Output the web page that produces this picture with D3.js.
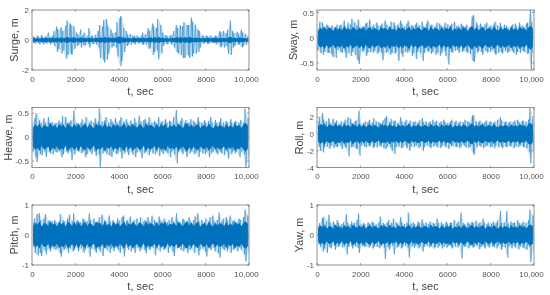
<!DOCTYPE html>
<html><head><meta charset="utf-8">
<script src="https://cdn.jsdelivr.net/npm/d3@7"></script>
<style>html,body{margin:0;padding:0;background:#fff}svg{display:block}text{font-family:"Liberation Sans",Arial,sans-serif}</style>
</head><body><div id="c"></div>
<script>
const xTicks=[0,2000,4000,6000,8000,10000];
const timeShift=[12,-28,31,-9,22,-33,5,27,-18,36,-24,9,-38,17,-6,29,-14,34,-31,3,24,-21,14];
const surgeHi=[.25,.2,.3,.2,.35,.2,.25,.5,.2,.3,.6,.9,.7,.85,.6,.95,1.3,1.1,1,.9,.5,.35,.7,.3,.5,.25,.8,.3,.25,.35,.6,1,.9,1.35,1.4,.9,.7,.45,.5,1.2,1.5,1.6,.8,.6,.35,.4,.25,.3,.3,.2,.3,.5,.35,.8,.6,1.1,.9,.8,1.4,1,.5,.3,.3,.25,.35,.6,1,.8,1,.9,1.2,1,1,1.5,1.2,1,.7,.6,.3,.25,.3,.25,.3,.2,.3,.25,.6,.5,.6,.45,.7,1.3,.6,.45,.55,.4,.7,.5,.4,.25];
const surgeLo=[-.2,-.25,-.2,-.3,-.2,-.3,-.25,-.2,-.3,-.2,-.4,-.8,-.6,-.9,-.7,-1.25,-1,-.9,-1,-.6,-.4,-.3,-.5,-.3,-.4,-.25,-.5,-.25,-.25,-.3,-.5,-1.2,-1.3,-1.5,-1.3,-.9,-.5,-.4,-.5,-1.1,-1.75,-1.4,-.8,-.4,-.3,-.3,-.2,-.3,-.25,-.2,-.3,-.3,-.3,-.6,-.5,-1,-.8,-.7,-1.3,-.9,-.4,-.25,-.3,-.2,-.3,-.5,-.8,-.9,-1,-1.2,-1.2,-1,-1.2,-1.1,-.9,-.9,-.8,-.5,-.25,-.2,-.25,-.25,-.2,-.2,-.3,-.2,-.5,-.4,-.5,-.4,-.9,-1,-.5,-.4,-.3,-.3,-.5,-.4,-.3,-.25];
const swayHi=[.18,.32,.3,.22,.26,.24,.2,.25,.2,.26,.24,.26,.34,.22,.3,.26,.38,.3,.24,.36,.2,.22,.28,.3,.36,.22,.26,.3,.24,.24,.28,.34,.26,.22,.32,.3,.24,.26,.34,.28,.22,.28,.34,.24,.24,.26,.3,.24,.32,.22,.28,.34,.24,.26,.22,.3,.28,.24,.22,.3,.26,.24,.28,.32,.22,.24,.28,.24,.22,.26,.2,.42,.45,.3,.24,.28,.22,.26,.3,.22,.24,.26,.32,.24,.3,.22,.26,.24,.2,.24,.26,.28,.22,.3,.24,.22,.28,.3,.55,.3];
const swayLo=[-.25,-.3,-.34,-.28,-.3,-.3,-.32,-.38,-.4,-.24,-.28,-.3,-.28,-.4,-.3,-.36,-.28,-.34,-.44,-.52,-.28,-.26,-.36,-.3,-.28,-.3,-.26,-.32,-.28,-.3,-.45,-.3,-.28,-.34,-.3,-.32,-.28,-.46,-.3,-.38,-.28,-.3,-.26,-.36,-.3,-.42,-.28,-.3,-.46,-.3,-.26,-.28,-.32,-.28,-.34,-.3,-.36,-.3,-.26,-.36,-.53,-.28,-.3,-.26,-.24,-.3,-.28,-.26,-.28,-.3,-.32,-.46,-.48,-.3,-.26,-.28,-.34,-.26,-.3,-.28,-.24,-.3,-.34,-.3,-.28,-.32,-.26,-.3,-.28,-.26,-.3,-.34,-.28,-.3,-.26,-.28,-.32,-.3,-.66,-.3];
const heaveHi=[.3,.4,.5,.35,.3,.4,.3,.42,.3,.32,.28,.3,.35,.3,.45,.42,.3,.32,.35,.56,.3,.28,.3,.38,.3,.42,.3,.35,.3,.4,.32,.6,.32,.35,.42,.3,.38,.32,.4,.3,.35,.42,.32,.38,.3,.35,.28,.4,.3,.45,.32,.35,.38,.3,.42,.3,.34,.3,.42,.3,.34,.38,.3,.35,.32,.42,.57,.3,.34,.4,.3,.36,.3,.38,.34,.3,.42,.32,.3,.36,.3,.34,.42,.3,.36,.3,.32,.4,.3,.34,.3,.38,.3,.32,.34,.3,.36,.3,.6,.4];
const heaveLo=[-.3,-.42,-.52,-.35,-.38,-.3,-.42,-.3,-.34,-.36,-.3,-.32,-.3,-.42,-.36,-.3,-.34,-.3,-.48,-.36,-.28,-.3,-.34,-.3,-.42,-.36,-.3,-.36,-.3,-.4,-.36,-.63,-.34,-.3,-.36,-.38,-.42,-.3,-.36,-.34,-.3,-.45,-.34,-.3,-.38,-.3,-.36,-.42,-.32,-.3,-.44,-.34,-.3,-.38,-.3,-.34,-.36,-.3,-.4,-.3,-.36,-.3,-.34,-.42,-.3,-.36,-.55,-.32,-.3,-.36,-.3,-.42,-.34,-.3,-.36,-.32,-.42,-.3,-.34,-.36,-.3,-.42,-.34,-.3,-.32,-.36,-.3,-.34,-.38,-.3,-.45,-.36,-.3,-.34,-.3,-.42,-.3,-.36,-.63,-.45];
const rollHi=[1.5,2,2.5,1.7,1.5,1.9,1.3,1.8,1.4,1.6,1.2,1.5,1.4,1.7,2,1.8,1.3,1.5,1.6,2.8,1.2,1.3,1.5,1.4,1.7,1.3,1.9,1.5,1.4,1.3,1.6,1.9,2.1,1.4,1.8,1.5,1.6,1.3,2,1.5,1.4,1.7,1.3,1.6,1.4,1.5,1.3,1.6,1.9,1.4,1.5,1.3,1.5,1.7,1.4,1.6,1.3,1.5,1.7,1.4,1.3,1.5,1.7,1.4,1.6,1.3,1.5,1.4,1.7,1.5,1.4,2.1,2.3,1.5,1.4,1.6,1.3,1.4,1.6,1.4,1.5,1.3,1.5,1.7,2,1.6,1.4,1.5,1.3,1.5,1.4,1.6,1.7,1.4,1.5,1.6,1.4,1.7,3.1,1.8];
const rollLo=[-1.5,-2,-2.2,-1.6,-1.5,-1.8,-1.4,-1.7,-1.5,-1.6,-1.4,-1.8,-1.5,-1.7,-2.7,-1.6,-1.5,-1.7,-1.8,-2.6,-1.4,-1.5,-1.6,-1.5,-1.4,-1.7,-1.5,-1.6,-1.4,-1.5,-1.7,-1.8,-1.5,-1.6,-2,-2.4,-1.6,-1.5,-1.7,-1.6,-1.4,-1.7,-2,-1.5,-1.6,-1.4,-1.7,-1.5,-2,-1.6,-1.4,-1.5,-1.7,-1.5,-1.4,-1.6,-1.7,-1.5,-1.4,-1.6,-1.8,-1.5,-1.4,-1.6,-1.5,-1.7,-1.5,-1.4,-1.6,-1.7,-1.5,-2.2,-2.5,-1.6,-1.4,-1.5,-1.7,-1.5,-1.4,-1.6,-1.5,-1.7,-1.4,-1.6,-1.5,-1.7,-1.5,-1.6,-1.4,-1.5,-1.7,-1.5,-1.6,-1.4,-1.5,-1.6,-1.7,-2.2,-3.5,-1.9];
const pitchHi=[.4,.55,.7,.72,.5,.55,.7,.45,.5,.45,.5,.42,.45,.7,.5,.45,.55,.68,.45,.72,.45,.5,.42,.55,.5,.45,.72,.5,.55,.42,.45,.6,.68,.5,.45,.65,.45,.5,.42,.55,.48,.6,.65,.45,.5,.62,.42,.5,.55,.42,.6,.45,.5,.6,.45,.65,.5,.42,.62,.5,.45,.55,.42,.5,.6,.45,.72,.48,.42,.55,.5,.45,.6,.45,.5,.62,.72,.45,.5,.42,.55,.45,.6,.65,.45,.5,.75,.45,.55,.6,.48,.65,.45,.5,.42,.55,.5,.6,.85,.65];
const pitchLo=[-.4,-.6,-.68,-.6,-.7,-.5,-.65,-.45,-.55,-.45,-.5,-.45,-.6,-.72,-.5,-.45,-.6,-.45,-.55,-.5,-.42,-.55,-.45,-.6,-.5,-.42,-.72,-.45,-.5,-.6,-.45,-.55,-.7,-.42,-.5,-.6,-.45,-.55,-.42,-.5,-.6,-.45,-.72,-.42,-.5,-.55,-.45,-.6,-.42,-.55,-.45,-.5,-.62,-.45,-.5,-.42,-.68,-.45,-.55,-.42,-.5,-.45,-.6,-.42,-.55,-.7,-.45,-.42,-.5,-.55,-.45,-.6,-.5,-.45,-.6,-.42,-.68,-.5,-.45,-.55,-.72,-.45,-.5,-.42,-.55,-.6,-.75,-.45,-.5,-.55,-.45,-.6,-.5,-.45,-.55,-.42,-.5,-.65,-.88,-.55];
const yawHi=[.3,.4,.55,.6,.45,.68,.4,.45,.35,.5,.4,.35,.42,.7,.4,.35,.45,.4,.5,.72,.35,.4,.35,.42,.38,.45,.4,.35,.42,.62,.4,.36,.42,.5,.4,.55,.42,.38,.6,.42,.36,.4,.75,.38,.42,.36,.45,.4,.52,.38,.42,.36,.45,.4,.38,.55,.4,.42,.36,.45,.38,.42,.4,.5,.38,.45,.75,.4,.36,.42,.38,.45,.4,.48,.38,.42,.55,.4,.36,.42,.38,.45,.4,.48,.8,.4,.42,.8,.38,.45,.4,.42,.5,.4,.38,.45,.4,.5,.85,.65];
const yawLo=[-.3,-.4,-.55,-.45,-.6,-.4,-.45,-.35,-.5,-.4,-.36,-.42,-.38,-.65,-.4,-.36,-.45,-.38,-.42,-.6,-.36,-.4,-.38,-.42,-.36,-.45,-.38,-.4,-.45,-.36,-.42,-.8,-.4,-.5,-.36,-.65,-.42,-.38,-.45,-.4,-.36,-.42,-.75,-.38,-.42,-.36,-.45,-.38,-.55,-.4,-.36,-.42,-.38,-.45,-.4,-.42,-.36,-.45,-.38,-.42,-.36,-.4,-.45,-.38,-.42,-.36,-.78,-.4,-.38,-.45,-.36,-.42,-.4,-.36,-.48,-.4,-.38,-.45,-.36,-.42,-.38,-.4,-.45,-.36,-.5,-.4,-.42,-.75,-.38,-.45,-.36,-.42,-.48,-.38,-.4,-.45,-.5,-.4,-.9,-.55];
const surgeCore=[.16,.1,.14,.09,.15,.11,.17,.1,.13,.16,.1,.18,.12,.2,.1,.16,.22,.11,.15,.2,.1,.14,.18,.11,.15,.1,.17,.12,.1,.15,.11,.19,.13,.22,.14,.18,.11,.16,.13,.2,.25,.15,.18,.11,.15,.1,.13,.16,.1,.14,.11,.16,.1,.15,.19,.12,.2,.13,.22,.11,.16,.1,.14,.09,.15,.11,.2,.13,.21,.12,.2,.14,.22,.16,.12,.19,.11,.15,.1,.14,.11,.16,.09,.13,.16,.1,.17,.12,.15,.1,.18,.22,.12,.16,.1,.18,.13,.15,.1,.13];
const swayCore=[.14,.2,.17,.22,.15,.21,.18,.14,.22,.16,.2,.15,.23,.17,.2,.14,.22,.18,.15,.21,.16,.23,.14,.19,.22,.15,.2,.17,.14,.22,.18,.2,.15,.23,.16,.19,.14,.22,.17,.21,.15,.18,.23,.14,.2,.16,.22,.17,.15,.21,.19,.14,.23,.16,.2,.18,.14,.22,.15,.2,.17,.23,.14,.19,.16,.21,.15,.22,.18,.14,.2,.24,.16,.21,.15,.19,.22,.14,.18,.2,.15,.23,.17,.14,.21,.16,.2,.18,.14,.22,.16,.19,.15,.23,.17,.2,.14,.21,.24,.18];
const heaveCore=[.2,.27,.22,.29,.18,.26,.24,.2,.3,.22,.26,.19,.28,.23,.27,.18,.3,.24,.2,.28,.21,.29,.19,.25,.28,.2,.27,.23,.18,.29,.24,.26,.2,.3,.21,.25,.19,.28,.22,.27,.2,.24,.3,.19,.26,.21,.28,.23,.2,.27,.25,.18,.3,.22,.26,.24,.19,.28,.2,.27,.23,.29,.18,.25,.22,.27,.2,.28,.24,.19,.26,.3,.21,.27,.2,.25,.28,.19,.24,.26,.2,.29,.22,.18,.27,.21,.26,.24,.19,.28,.21,.25,.2,.29,.23,.26,.19,.27,.3,.24];
const rollCore=[.9,1.2,1,1.3,.8,1.1,1.05,.85,1.25,.95,1.1,.8,1.2,.95,1.1,.8,1.25,1,.85,1.2,.85,1.15,.8,1.05,1.15,.85,1.1,.95,.75,1.2,1,1.1,.85,1.25,.9,1.05,.8,1.15,.9,1.1,.85,1,1.2,.8,1.05,.9,1.15,.95,.85,1.1,1,.8,1.2,.9,1.05,1,.8,1.15,.85,1.1,.95,1.2,.75,1.05,.9,1.1,.85,1.15,1,.8,1.1,1.3,.9,1.1,.85,1.05,1.15,.8,1,1.05,.85,1.2,.9,.8,1.1,.9,1.05,1,.8,1.15,.9,1.05,.85,1.2,.95,1.05,.8,1.2,1.3,1];
const pitchCore=[.3,.42,.34,.46,.28,.4,.38,.3,.46,.34,.4,.28,.44,.36,.42,.28,.46,.38,.3,.44,.32,.45,.29,.38,.44,.3,.42,.36,.28,.45,.38,.4,.3,.46,.32,.39,.28,.44,.34,.42,.3,.37,.46,.28,.4,.33,.44,.36,.3,.42,.38,.28,.46,.34,.4,.37,.29,.44,.3,.42,.36,.45,.28,.38,.34,.42,.3,.44,.37,.29,.4,.46,.32,.42,.3,.38,.44,.28,.37,.4,.3,.45,.34,.28,.42,.32,.4,.37,.29,.44,.32,.39,.3,.45,.35,.4,.29,.42,.46,.37];
const yawCore=[.22,.32,.26,.35,.21,.3,.28,.22,.35,.25,.3,.21,.33,.27,.31,.21,.35,.28,.23,.33,.24,.34,.22,.29,.33,.23,.32,.27,.21,.34,.28,.3,.23,.35,.24,.29,.21,.33,.26,.32,.23,.28,.35,.21,.3,.25,.33,.27,.23,.31,.29,.21,.35,.25,.3,.28,.22,.33,.23,.31,.27,.34,.21,.29,.25,.32,.23,.33,.28,.22,.3,.35,.24,.32,.23,.29,.33,.21,.28,.3,.23,.34,.26,.21,.32,.24,.3,.28,.22,.33,.24,.29,.23,.34,.26,.3,.22,.32,.35,.28];

const panels=[
 {name:"Surge, m",hi:surgeHi,lo:surgeLo,core:surgeCore,dom:[-2,2],ticks:[-2,0,2],lx:-14,x:32,y:10},
 {name:"Sway, m",hi:swayHi,lo:swayLo,core:swayCore,dom:[-.64,.55],ticks:[-.5,0,.5],lx:-20,x:317,y:10},
 {name:"Heave, m",hi:heaveHi,lo:heaveLo,core:heaveCore,dom:[-.635,.62],ticks:[-.5,0,.5],lx:-20,x:32,y:107.5},
 {name:"Roll, m",hi:rollHi,lo:rollLo,core:rollCore,dom:[-4,3.15],ticks:[-4,-2,0,2],lx:-14,x:317,y:107.5},
 {name:"Pitch, m",hi:pitchHi,lo:pitchLo,core:pitchCore,dom:[-1,1],ticks:[-1,0,1],lx:-14,x:32,y:205},
 {name:"Yaw, m",hi:yawHi,lo:yawLo,core:yawCore,dom:[-1,1],ticks:[-1,0,1],lx:-14,x:317,y:205}
];
const W=217,H=60,blue="#0072BD",grey="#666",tc="#555";
const svg=d3.select("#c").append("svg").attr("width",550).attr("height",295);
const defs=svg.append("defs");
const f=defs.append("filter").attr("id","soft").attr("x","0").attr("y","0").attr("width","550").attr("height","295").attr("filterUnits","userSpaceOnUse");
f.append("feGaussianBlur").attr("stdDeviation",0.4);
const root=svg.append("g").attr("filter","url(#soft)");
const x=d3.scaleLinear().domain([0,10000]).range([0,W]);
panels.forEach((p,k)=>{
 const g=root.append("g").attr("transform",`translate(${p.x},${p.y})`);
 const y=d3.scaleLinear().domain(p.dom).range([H,0]);
 defs.append("clipPath").attr("id","cp"+k).append("rect").attr("width",W).attr("height",H);
 const marks=g.append("g").attr("clip-path",`url(#cp${k})`);
 const at=(i,o)=>Math.max(0,Math.min(10000,i*100+o+timeShift[(i+k*5)%timeShift.length]));
 const env=p.hi.map((v,i)=>[i*100+50,v,p.lo[i]]);
 marks.append("path").attr("d",d3.area().x(d=>x(d[0])).y0(d=>y(d[2])).y1(d=>y(d[1]))(env)).attr("fill",blue).attr("fill-opacity",.2);
 const pts=[];
 p.hi.forEach((v,i)=>{pts.push([at(i,25),v]);pts.push([at(i,75),p.lo[i]]);});
 marks.append("path").attr("d",d3.line().x(d=>x(d[0])).y(d=>y(d[1]))(pts))
  .attr("fill","none").attr("stroke",blue).attr("stroke-width",.6).attr("stroke-opacity",.7);
 const corePts=p.core.map((v,i)=>[i*100+50,v]);
 marks.append("path").attr("d",d3.area().x(d=>x(d[0])).y0(d=>y(-d[1])).y1(d=>y(d[1]))(corePts)).attr("fill",blue);
 const ax=d3.axisBottom(x).tickValues(xTicks).tickSize(0).tickPadding(6).tickFormat(d=>d===10000?"10,000":String(d));
 const ay=d3.axisLeft(y).tickValues(p.ticks).tickSize(0).tickPadding(3).tickFormat(String);
 const gx=g.append("g").attr("transform",`translate(0,${H})`).call(ax);
 const gy=g.append("g").call(ay);
 [gx,gy].forEach(a=>{a.select(".domain").remove();a.selectAll("text").attr("fill",tc).attr("font-size",8).attr("font-family",'"Liberation Sans",Arial,sans-serif');});
 gx.selectAll("text").filter(d=>d===10000).attr("dx",-3);
 xTicks.forEach(t=>{g.append("line").attr("x1",x(t)).attr("x2",x(t)).attr("y1",H).attr("y2",H-2).attr("stroke",grey).attr("stroke-width",.6);
   g.append("line").attr("x1",x(t)).attr("x2",x(t)).attr("y1",0).attr("y2",2).attr("stroke",grey).attr("stroke-width",.6);});
 p.ticks.forEach(t=>{g.append("line").attr("x1",0).attr("x2",2).attr("y1",y(t)).attr("y2",y(t)).attr("stroke",grey).attr("stroke-width",.6);
   g.append("line").attr("x1",W).attr("x2",W-2).attr("y1",y(t)).attr("y2",y(t)).attr("stroke",grey).attr("stroke-width",.6);});
 g.append("rect").attr("width",W).attr("height",H).attr("fill","none").attr("stroke",grey).attr("stroke-width",.7);
 g.append("text").attr("x",W/2).attr("y",H+25).attr("text-anchor","middle").attr("font-size",11).attr("fill","#444").text("t, sec");
 g.append("text").attr("transform",`translate(${p.lx},${H/2}) rotate(-90)`).attr("text-anchor","middle").attr("font-size",10.7).attr("fill","#444").text(p.name);
});
</script></body></html>
